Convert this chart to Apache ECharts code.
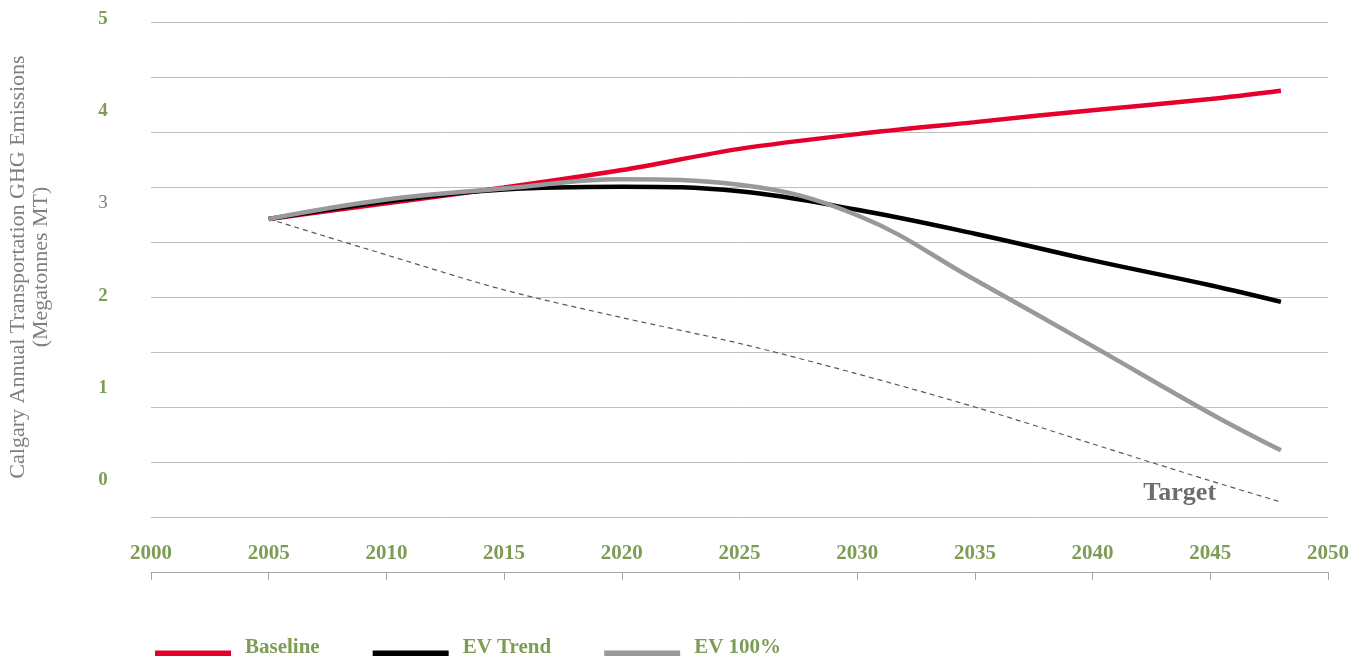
<!DOCTYPE html>
<html lang="en">
<head>
<meta charset="UTF-8">
<title>Calgary Annual Transportation GHG Emissions</title>
<script src="https://cdn.jsdelivr.net/npm/echarts@6/dist/echarts.min.js"></script>
<style>
  html, body { margin: 0; padding: 0; background: #fff; }
  #chart { width: 1353px; height: 656px; }
</style>
</head>
<body>
<div id="chart"></div>
<script>
  // values (megatonnes, label scale)
  var years    = [2005, 2010, 2015, 2020, 2025, 2030, 2035, 2040, 2045, 2048];
  var baseline = [2.81, 2.98, 3.15, 3.34, 3.57, 3.73, 3.86, 3.99, 4.11, 4.20];
  var evTrend  = [2.81, 3.00, 3.13, 3.16, 3.11, 2.91, 2.65, 2.36, 2.09, 1.91];
  var ev100    = [2.81, 3.02, 3.14, 3.24, 3.18, 2.85, 2.15, 1.43, 0.70, 0.30];
  var target   = [2.81, 2.42, 2.04, 1.74, 1.46, 1.13, 0.77, 0.37, -0.03, -0.26];
  var yTicks   = [0, 1, 2, 3, 4, 5];
  var seriesNames = ['Baseline', 'EV Trend', 'EV 100%', 'Target'];

  var green = '#7e9c55';
  var serif = "'Liberation Serif', 'Times New Roman', serif";

  function pairs(vals) {
    return years.map(function (y, i) { return [y, vals[i]]; });
  }

  var chart = echarts.init(document.getElementById('chart'));
  chart.setOption({
    animation: false,
    grid: [
      { left: 151, right: 25, top: 22, bottom: 84, outerBoundsMode: 'none' },   // plot + gridlines
      { left: 151, right: 25, top: 19, bottom: 176, outerBoundsMode: 'none' }   // value labels only
    ],
    legend: {
      data: seriesNames.slice(0, 3),
      left: 155,
      top: 637,
      padding: 0,
      itemWidth: 76,
      itemHeight: 6,
      itemGap: 53,
      selectedMode: false,
      icon: 'rect',
      itemStyle: { borderWidth: 0 },
      // empty second line pushes the name above the line marker
      formatter: function (name) { return '{t|' + name + '}\n{s| }'; },
      textStyle: {
        rich: {
          t: {
            color: green, fontWeight: 'bold', fontSize: 21, fontFamily: serif,
            lineHeight: 24, padding: [0, 0, 0, 9]
          },
          s: { fontSize: 1, lineHeight: 12 }
        }
      }
    },
    xAxis: [
      {
        gridIndex: 0, type: 'value', min: 2000, max: 2050, interval: 5,
        axisLine: { show: true, onZero: false, lineStyle: { color: '#a6a6a6', width: 1 } },
        axisTick: { show: true, inside: false, length: 8, lineStyle: { color: '#a6a6a6' } },
        axisLabel: {
          inside: true, margin: 8, showMinLabel: true, showMaxLabel: true,
          color: green, fontWeight: 'bold', fontSize: 21, fontFamily: serif,
          formatter: function (v) { return String(v); }
        },
        splitLine: { show: false }
      },
      { gridIndex: 1, type: 'value', min: 2000, max: 2050, show: false }
    ],
    yAxis: [
      // data axis (hidden): 0 sits on the "0" label
      { gridIndex: 0, type: 'value', position: 'left', min: -1.0195, max: 4.946, show: false },
      // gridlines
      {
        gridIndex: 0, type: 'value', position: 'left', min: 0, max: 10, interval: 1,
        axisLine: { show: false }, axisTick: { show: false }, axisLabel: { show: false },
        splitLine: { show: true, lineStyle: { color: '#bfbfbf', width: 1 } },
        name: 'Calgary Annual Transportation GHG Emissions\n(Megatonnes MT)',
        nameLocation: 'middle', nameRotate: 90, nameGap: 98,
        nameTextStyle: {
          color: '#7f7f7f', fontSize: 22, fontFamily: serif, lineHeight: 23,
          padding: [0, 0, 0, 60]
        }
      },
      // tick labels
      {
        gridIndex: 1, type: 'value', position: 'left',
        min: yTicks[0], max: yTicks[yTicks.length - 1], interval: 1,
        axisLine: { show: false }, axisTick: { show: false }, splitLine: { show: false },
        axisLabel: {
          margin: 48, align: 'center',
          formatter: function (v) { return v === 3 ? '{plain|' + v + '}' : '{bold|' + v + '}'; },
          rich: {
            bold: { color: green, fontWeight: 'bold', fontSize: 19, fontFamily: serif },
            plain: { color: '#7f7f7f', fontWeight: 'normal', fontSize: 19, fontFamily: serif }
          }
        }
      }
    ],
    series: [
      {
        name: seriesNames[3], type: 'line', xAxisIndex: 0, yAxisIndex: 0,
        data: pairs(target), showSymbol: false, smooth: 0.3,
        lineStyle: { color: '#595959', width: 1.2, type: [5, 4] },
        itemStyle: { color: '#595959' },
        markPoint: {
          silent: true, symbolSize: 0,
          label: {
            show: true, position: 'inside', formatter: 'Target',
            color: '#6d6d6d', fontWeight: 'bold', fontSize: 26, fontFamily: serif
          },
          data: [{ coord: [2043.7, -0.17] }]
        }
      },
      {
        name: seriesNames[0], type: 'line', xAxisIndex: 0, yAxisIndex: 0,
        data: pairs(baseline), showSymbol: false, smooth: 0.3,
        lineStyle: { color: '#e4002b', width: 4.5 },
        itemStyle: { color: '#e4002b' }
      },
      {
        name: seriesNames[1], type: 'line', xAxisIndex: 0, yAxisIndex: 0,
        data: pairs(evTrend), showSymbol: false, smooth: 0.4,
        lineStyle: { color: '#000000', width: 4.5 },
        itemStyle: { color: '#000000' }
      },
      {
        name: seriesNames[2], type: 'line', xAxisIndex: 0, yAxisIndex: 0,
        data: pairs(ev100), showSymbol: false, smooth: 0.4,
        lineStyle: { color: '#99999d', width: 4.5 },
        itemStyle: { color: '#99999d' }
      }
    ]
  });
</script>
</body>
</html>
